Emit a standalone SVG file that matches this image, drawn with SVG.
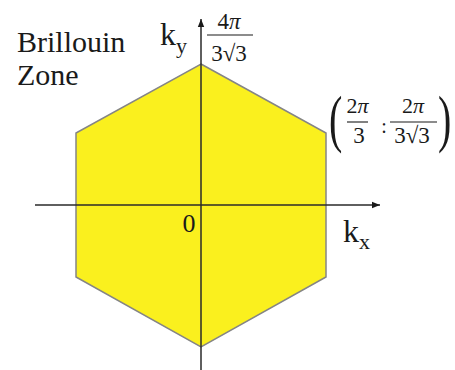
<svg xmlns="http://www.w3.org/2000/svg" width="455" height="370" viewBox="0 0 455 370">
<style>
  .t { font-family: "Liberation Serif", "DejaVu Serif", "Times New Roman", serif; fill: #1a1a1a; }
  .axis { stroke: #2a2a2a; stroke-width: 1.5; fill: none; }
  .bar { stroke: #1a1a1a; stroke-width: 1.1; }
</style>
<defs>
  <marker id="arr" viewBox="0 0 10 10" refX="10" refY="5" markerWidth="8" markerHeight="8" markerUnits="userSpaceOnUse" orient="auto">
    <path d="M0,1 L10,5 L0,9 Z" fill="#1a1a1a"/>
  </marker>
</defs>
<rect width="455" height="370" fill="#ffffff"/>
<g id="zone">
  <polygon points="201,64 326,133 326,277 201,347 76,277 76,133" fill="#FAF01E" stroke="#858585" stroke-width="1.5"/>
</g>
<g id="connectors">
  <line class="axis" x1="35" y1="205" x2="380" y2="205" marker-end="url(#arr)"/>
  <line class="axis" x1="201" y1="370" x2="201" y2="19" marker-end="url(#arr)"/>
</g>
<g id="title">
  <text class="t" x="17" y="52" font-size="30">Brillouin</text>
  <text class="t" x="17" y="85" font-size="30">Zone</text>
</g>
<g id="ky-label">
  <text class="t" x="160" y="45" font-size="32">k<tspan font-size="22" dy="8">y</tspan></text>
</g>
<g id="ky-value">
  <text class="t" x="229" y="29" font-size="23" text-anchor="middle">4<tspan font-style="italic">π</tspan></text>
  <line class="bar" x1="207" y1="35" x2="253" y2="35"/>
  <text class="t" x="229" y="61" font-size="23" text-anchor="middle">3√3</text>
</g>
<g id="kx-label">
  <text class="t" x="343" y="242" font-size="32">k<tspan font-size="22" dy="7">x</tspan></text>
</g>
<g id="origin">
  <text class="t" x="189" y="232" font-size="26" text-anchor="middle">0</text>
</g>
<g id="vertex-label">
  <text class="t" font-size="40" transform="translate(329,140) scale(1,1.6)">(</text>
  <text class="t" x="357.5" y="113" font-size="22" text-anchor="middle">2<tspan font-style="italic">π</tspan></text>
  <line class="bar" x1="347" y1="122" x2="368" y2="122"/>
  <text class="t" x="359" y="143" font-size="23" text-anchor="middle">3</text>
  <text class="t" x="384" y="133" font-size="20" text-anchor="middle">:</text>
  <text class="t" x="413" y="113" font-size="22" text-anchor="middle">2<tspan font-style="italic">π</tspan></text>
  <line class="bar" x1="390" y1="122" x2="437" y2="122"/>
  <text class="t" x="412" y="143" font-size="23" text-anchor="middle">3√3</text>
  <text class="t" font-size="40" transform="translate(438,140) scale(1,1.6)">)</text>
</g>
</svg>
